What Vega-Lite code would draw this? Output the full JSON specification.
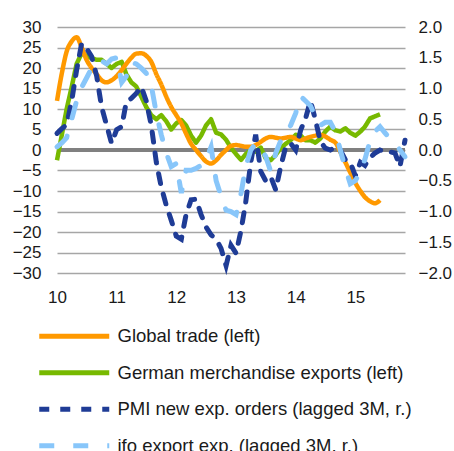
{
  "$schema": "https://vega.github.io/schema/vega-lite/v6.json",
  "width": 348,
  "height": 246,
  "autosize": {"type": "none"},
  "padding": {"left": 57, "top": 27, "right": 49, "bottom": 178},
  "background": "white",
  "config": {
    "view": {"stroke": null},
    "font": "Liberation Sans",
    "axis": {"labelFont": "Liberation Sans", "labelFontSize": 17, "labelColor": "#1a1a1a", "domain": false, "ticks": false, "title": null, "labelOverlap": false, "labelSeparation": -8}
  },
  "data": {"values": [
    {"d":"2010-01","gt":12,"ge":-2.5,"pmi":0.27,"ifo":0.05},
    {"d":"2010-02","gt":19,"ge":4,"pmi":0.35,"ifo":0.12},
    {"d":"2010-03","gt":24,"ge":10,"pmi":0.41,"ifo":0.2},
    {"d":"2010-04","gt":26.5,"ge":15.4,"pmi":0.8,"ifo":0.5},
    {"d":"2010-05","gt":27.5,"ge":21,"pmi":1.3,"ifo":0.8},
    {"d":"2010-06","gt":25,"ge":23.6,"pmi":1.73,"ifo":1.02},
    {"d":"2010-07","gt":22,"ge":23,"pmi":1.65,"ifo":1.17},
    {"d":"2010-08","gt":20,"ge":22.4,"pmi":1.52,"ifo":1.33},
    {"d":"2010-09","gt":18.5,"ge":22,"pmi":1.2,"ifo":1.4},
    {"d":"2010-10","gt":17,"ge":22,"pmi":0.7,"ifo":1.45},
    {"d":"2010-11","gt":16.5,"ge":21,"pmi":0.4,"ifo":1.4},
    {"d":"2010-12","gt":17,"ge":20,"pmi":0.11,"ifo":1.48},
    {"d":"2011-01","gt":18,"ge":21,"pmi":0.33,"ifo":1.5},
    {"d":"2011-02","gt":19.5,"ge":21.5,"pmi":0.38,"ifo":1.1},
    {"d":"2011-03","gt":21,"ge":18.5,"pmi":0.78,"ifo":1.2},
    {"d":"2011-04","gt":22.5,"ge":16.5,"pmi":0.84,"ifo":1.43},
    {"d":"2011-05","gt":23.5,"ge":15.5,"pmi":0.92,"ifo":1.4},
    {"d":"2011-06","gt":23.6,"ge":13,"pmi":1.03,"ifo":1.33},
    {"d":"2011-07","gt":23,"ge":10.5,"pmi":0.8,"ifo":1.25},
    {"d":"2011-08","gt":21.5,"ge":8.5,"pmi":0.4,"ifo":1.05},
    {"d":"2011-09","gt":18.5,"ge":7.5,"pmi":-0.2,"ifo":0.6},
    {"d":"2011-10","gt":16,"ge":8.5,"pmi":-0.6,"ifo":0.25},
    {"d":"2011-11","gt":13,"ge":7,"pmi":-0.9,"ifo":-0.05},
    {"d":"2011-12","gt":10.5,"ge":5,"pmi":-1.14,"ifo":-0.27},
    {"d":"2012-01","gt":8.5,"ge":6.5,"pmi":-1.4,"ifo":-0.22},
    {"d":"2012-02","gt":6.5,"ge":7.3,"pmi":-1.45,"ifo":-0.7},
    {"d":"2012-03","gt":4,"ge":6,"pmi":-1.05,"ifo":-0.33},
    {"d":"2012-04","gt":1.5,"ge":3.5,"pmi":-0.81,"ifo":-0.33},
    {"d":"2012-05","gt":0,"ge":1.8,"pmi":-0.8,"ifo":-0.3},
    {"d":"2012-06","gt":-1.5,"ge":3.5,"pmi":-1.05,"ifo":-0.25},
    {"d":"2012-07","gt":-2.8,"ge":6,"pmi":-1.25,"ifo":-0.15},
    {"d":"2012-08","gt":-3.3,"ge":7.5,"pmi":-1.38,"ifo":0.05},
    {"d":"2012-09","gt":-2.5,"ge":4.2,"pmi":-1.45,"ifo":-0.5},
    {"d":"2012-10","gt":-1.2,"ge":3.8,"pmi":-1.6,"ifo":-0.75},
    {"d":"2012-11","gt":0,"ge":2.5,"pmi":-1.88,"ifo":-0.98},
    {"d":"2012-12","gt":1,"ge":0.5,"pmi":-1.55,"ifo":-1.0},
    {"d":"2013-01","gt":1.2,"ge":-1,"pmi":-1.68,"ifo":-1.05},
    {"d":"2013-02","gt":1,"ge":-2.4,"pmi":-1.3,"ifo":-0.7},
    {"d":"2013-03","gt":0.8,"ge":-1,"pmi":-0.85,"ifo":-0.27},
    {"d":"2013-04","gt":0.8,"ge":0,"pmi":-0.2,"ifo":0.0},
    {"d":"2013-05","gt":1.2,"ge":-0.4,"pmi":0.25,"ifo":0.11},
    {"d":"2013-06","gt":2,"ge":0.6,"pmi":-0.35,"ifo":0.0},
    {"d":"2013-07","gt":2.8,"ge":-2,"pmi":-0.5,"ifo":-0.1},
    {"d":"2013-08","gt":3.2,"ge":-2.5,"pmi":-0.43,"ifo":-0.35},
    {"d":"2013-09","gt":3,"ge":-1.2,"pmi":-0.65,"ifo":-0.05},
    {"d":"2013-10","gt":2.8,"ge":0.5,"pmi":-0.27,"ifo":0.15},
    {"d":"2013-11","gt":3,"ge":1.5,"pmi":0.05,"ifo":0.3},
    {"d":"2013-12","gt":3.2,"ge":2.4,"pmi":0.11,"ifo":0.4},
    {"d":"2014-01","gt":2.8,"ge":3.7,"pmi":0,"ifo":0.6},
    {"d":"2014-02","gt":2.4,"ge":3.5,"pmi":0.33,"ifo":0.87},
    {"d":"2014-03","gt":2.8,"ge":2.4,"pmi":0.5,"ifo":0.8},
    {"d":"2014-04","gt":3.2,"ge":2.4,"pmi":0.8,"ifo":0.72},
    {"d":"2014-05","gt":3.5,"ge":1.8,"pmi":0.5,"ifo":0.55},
    {"d":"2014-06","gt":3.7,"ge":2.8,"pmi":0.14,"ifo":0.4},
    {"d":"2014-07","gt":3.3,"ge":4.5,"pmi":0.03,"ifo":0.45},
    {"d":"2014-08","gt":2.5,"ge":5.7,"pmi":0,"ifo":0.45},
    {"d":"2014-09","gt":1.8,"ge":4.8,"pmi":0.05,"ifo":0.3},
    {"d":"2014-10","gt":-0.5,"ge":4.5,"pmi":0,"ifo":0.0},
    {"d":"2014-11","gt":-3,"ge":5.3,"pmi":-0.16,"ifo":-0.3},
    {"d":"2014-12","gt":-5.5,"ge":4.2,"pmi":-0.2,"ifo":-0.55},
    {"d":"2015-01","gt":-8,"ge":3.5,"pmi":-0.42,"ifo":-0.5},
    {"d":"2015-02","gt":-10,"ge":4.5,"pmi":-0.2,"ifo":-0.35},
    {"d":"2015-03","gt":-11.5,"ge":5.7,"pmi":-0.25,"ifo":-0.15},
    {"d":"2015-04","gt":-12.5,"ge":7.7,"pmi":-0.12,"ifo":0.15},
    {"d":"2015-05","gt":-13,"ge":8.2,"pmi":-0.05,"ifo":0.3},
    {"d":"2015-06","gt":-12.2,"ge":8.7,"pmi":0,"ifo":0.38},
    {"d":"2015-07","pmi":-0.03,"ifo":0.28},
    {"d":"2015-08","pmi":-0.03,"ifo":0.19},
    {"d":"2015-09","pmi":-0.05,"ifo":0.1},
    {"d":"2015-10","pmi":-0.27,"ifo":0.0},
    {"d":"2015-11","pmi":0.16,"ifo":-0.11}
  ]},
  "layer": [
    {
      "layer": [
        {
          "data": {"values": [{}]},
          "mark": {"type": "rule", "color": "#808080", "strokeWidth": 4},
          "encoding": {"y": {"datum": 0, "type": "quantitative",
              "scale": {"domain": [-30, 30], "nice": false, "zero": false},
              "axis": {"orient": "left", "values": [-30, -25, -20, -15, -10, -5, 0, 5, 10, 15, 20, 25, 30], "grid": true, "gridColor": "#A6A6A6", "gridWidth": 1.5, "labelPadding": 16, "labelOverlap": false, "labelSeparation": -8, "title": null}}}
        },
        {
          "transform": [{"fold": ["ge"], "as": ["key", "value"]}, {"filter": "isValid(datum.value)"}],
          "mark": {"type": "line", "strokeWidth": 4.5, "strokeJoin": "round"},
          "encoding": {
            "x": {"field": "d", "type": "temporal", "title": null,
              "scale": {"type": "utc", "domain": [{"year": 2010, "month": 1, "date": 1, "utc": true}, {"year": 2015, "month": 11, "date": 1, "utc": true}]},
              "axis": {"format": "%y", "formatType": "utc", "labelExpr": "utcFormat(datum.value, '%y')", "grid": false, "labelPadding": 16, "labelFlush": false,
                "values": [{"year": 2010, "month": 1, "date": 1, "utc": true}, {"year": 2011, "month": 1, "date": 1, "utc": true}, {"year": 2012, "month": 1, "date": 1, "utc": true}, {"year": 2013, "month": 1, "date": 1, "utc": true}, {"year": 2014, "month": 1, "date": 1, "utc": true}, {"year": 2015, "month": 1, "date": 1, "utc": true}]}},
            "y": {"field": "value", "type": "quantitative", "title": null,
              "scale": {"domain": [-30, 30], "nice": false, "zero": false},
              "axis": {"orient": "left", "values": [-30, -25, -20, -15, -10, -5, 0, 5, 10, 15, 20, 25, 30], "grid": true, "gridColor": "#A6A6A6", "gridWidth": 1.5, "labelPadding": 16, "labelOverlap": false, "labelSeparation": -8, "title": null}},
            "color": {"field": "key", "type": "nominal",
              "scale": {"domain": ["gt", "ge", "pmi", "ifo"], "range": ["#FF9900", "#77B900", "#1F3C96", "#88C6FA"]},
              "legend": {"orient": "none", "legendX": 8, "legendY": 300, "direction": "vertical", "title": null, "symbolType": "M-7,0H7", "symbolSize": 100, "symbolStrokeWidth": 5, "labelFontSize": 18.5, "labelFont": "Liberation Sans", "labelColor": "#1a1a1a", "labelOffset": 34, "rowPadding": 15.5, "padding": 0, "labelLimit": 400,
                "labelExpr": "datum.label == 'gt' ? 'Global trade (left)' : datum.label == 'ge' ? 'German merchandise exports (left)' : datum.label == 'pmi' ? 'PMI new exp. orders (lagged 3M, r.)' : 'ifo export exp. (lagged 3M, r.)'"}},
            "strokeDash": {"field": "key", "type": "nominal",
              "scale": {"domain": ["gt", "ge", "pmi", "ifo"], "range": [[1, 0], [1, 0], [10, 11], [15, 19]]},
              "legend": {"orient": "none", "legendX": 8, "legendY": 300, "direction": "vertical", "title": null, "symbolType": "M-7,0H7", "symbolSize": 100, "symbolStrokeWidth": 5, "labelFontSize": 18.5, "labelFont": "Liberation Sans", "labelColor": "#1a1a1a", "labelOffset": 34, "rowPadding": 15.5, "padding": 0, "labelLimit": 400,
                "labelExpr": "datum.label == 'gt' ? 'Global trade (left)' : datum.label == 'ge' ? 'German merchandise exports (left)' : datum.label == 'pmi' ? 'PMI new exp. orders (lagged 3M, r.)' : 'ifo export exp. (lagged 3M, r.)'"}}
          }
        },
        {
          "transform": [{"fold": ["gt"], "as": ["key", "value"]}, {"filter": "isValid(datum.value)"}],
          "mark": {"type": "line", "strokeWidth": 4.5, "interpolate": "monotone", "strokeJoin": "round"},
          "encoding": {
            "x": {"field": "d", "type": "temporal"},
            "y": {"field": "value", "type": "quantitative",
              "axis": {"orient": "left", "values": [-30, -25, -20, -15, -10, -5, 0, 5, 10, 15, 20, 25, 30], "grid": true, "gridColor": "#A6A6A6", "gridWidth": 1.5, "labelPadding": 16, "labelOverlap": false, "labelSeparation": -8, "title": null}},
            "color": {"field": "key", "type": "nominal"},
            "strokeDash": {"field": "key", "type": "nominal"}
          }
        }
      ]
    },
    {
      "transform": [{"fold": ["pmi", "ifo"], "as": ["key", "value"]}, {"filter": "isValid(datum.value)"}],
      "mark": {"type": "line", "strokeWidth": 5, "strokeCap": "round"},
      "encoding": {
        "x": {"field": "d", "type": "temporal"},
        "y": {"field": "value", "type": "quantitative", "title": null,
          "scale": {"domain": [-2, 2], "nice": false, "zero": false},
          "axis": {"orient": "right", "values": [-2, -1.5, -1, -0.5, 0, 0.5, 1, 1.5, 2], "format": ".1f", "grid": false, "labelPadding": 13}},
        "color": {"field": "key", "type": "nominal"},
        "strokeDash": {"field": "key", "type": "nominal"}
      }
    }
  ],
  "resolve": {"scale": {"y": "independent"}, "axis": {"y": "independent"}}
}
